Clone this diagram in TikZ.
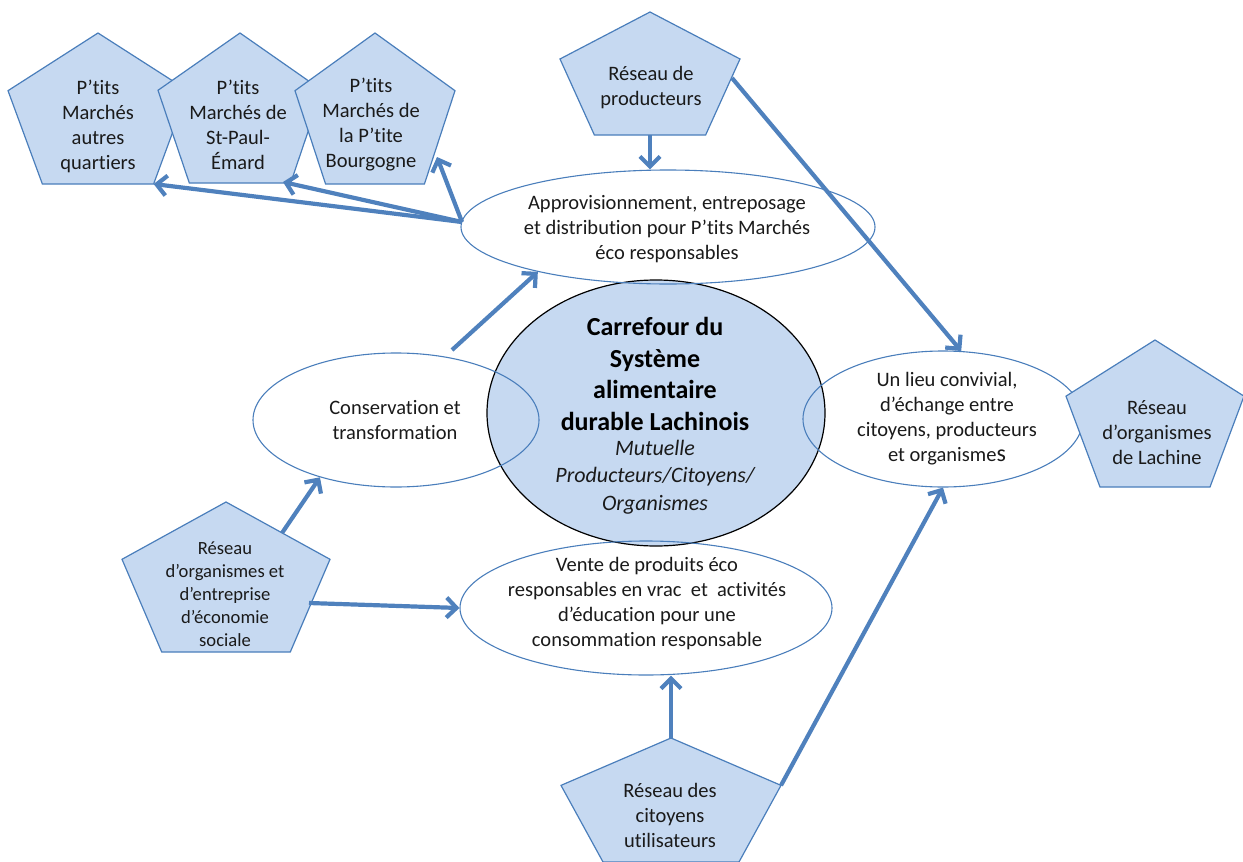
\documentclass[tikz,border=0pt]{standalone}
\usepackage{fontspec}
\setmainfont{Carlito}[Ligatures=NoCommon]
\usetikzlibrary{arrows.meta,shapes.geometric,calc}
\definecolor{pfill}{HTML}{C6D9F1}
\definecolor{pline}{HTML}{4A7EBB}
\definecolor{arr}{HTML}{4F81BD}
\definecolor{ink}{HTML}{1A1A1A}
\tikzset{
  pent/.style={fill=pfill,draw=pline,line width=1.2pt,line join=miter},
  oval/.style={ellipse,draw=pline,line width=1.1pt,inner sep=0pt},
  hubstyle/.style={ellipse,fill=pfill,draw=black,line width=1.2pt,inner sep=0pt},
  txt/.style={align=center,inner sep=0pt,text=ink,font=\fontsize{20.5}{25}\selectfont},
  smalltxt/.style={align=center,inner sep=0pt,text=ink,font=\fontsize{18.6}{23}\selectfont},
  conn/.style={draw=arr,line width=4.2pt,-{Straight Barb[length=10pt,width=20pt]}},
}
% #1 name, #2 centre x, #3 top y, #4 width, #5 height
\newcommand\mypent[5]{%
  \path[pent] (#2,#3) coordinate (#1-t)
    -- (#2+#4/2,#3+0.382*#5) coordinate (#1-r)
    -- (#2+0.309*#4,#3+#5) coordinate (#1-br)
    -- (#2-0.309*#4,#3+#5) coordinate (#1-bl)
    -- (#2-#4/2,#3+0.382*#5) coordinate (#1-l)
    -- cycle;}
\begin{document}
\begin{tikzpicture}[x=1pt,y=-1pt]
\useasboundingbox (0,0) rectangle (1243,862);

% central hub
\node[hubstyle,minimum width=338pt,minimum height=266pt] (hub) at (656,413) {};
\node[align=center,inner sep=0pt,text=black,font=\bfseries\fontsize{26}{31.5}\selectfont] (hubA) at (655,374) {Carrefour du\\Système\\alimentaire\\durable Lachinois};
\node[align=center,inner sep=0pt,text=ink,font=\itshape\fontsize{22}{27.5}\selectfont] (hubB) at (655,477) {Mutuelle\\Producteurs/Citoyens/\\Organismes};

% ellipses
\node[oval,minimum width=414pt,minimum height=114pt] (appro) at (668,227) {};
\node[txt] (approt) at (667,229) {Approvisionnement, entreposage\\et distribution pour P’tits Marchés\\éco responsables};

\node[oval,minimum width=286pt,minimum height=134pt] (cons) at (396,420) {};
\node[txt] (const) at (395,420) {Conservation et\\transformation};

\node[oval,minimum width=280pt,minimum height=136pt] (conv) at (943,419) {};
\node[txt] (convt) at (947,419) {Un lieu convivial,\\d’échange entre\\citoyens, producteurs\\et organisme{\fontsize{24}{25}\selectfont s}};

\node[oval,minimum width=372pt,minimum height=134pt] (vente) at (646,608) {};
\node[txt] (ventet) at (647,604) {Vente de produits éco\\responsables en vrac~ et~ activités\\d’éducation pour une\\consommation responsable};

% pentagons
\mypent{pa}{98}{33}{180}{151}
\node[txt] (pat) at (98,126) {P’tits\\Marchés\\autres\\quartiers};
\mypent{pb}{240}{33}{164}{150}
\node[txt] (pbt) at (238,125) {P’tits\\Marchés de\\St-Paul-\\Émard};
\mypent{pc}{375}{33}{160}{151}
\node[txt] (pct) at (371,125) {P’tits\\Marchés de\\la P’tite\\Bourgogne};

\mypent{prod}{650}{12}{180}{123}
\node[txt] (prodt) at (651,88) {Réseau de\\producteurs};

\mypent{lach}{1155}{340}{178}{147}
\node[txt] (lacht) at (1157,433) {Réseau\\d’organismes\\de Lachine};

\mypent{eco}{226}{502}{208}{150}
\node[smalltxt] (ecot) at (225,594) {Réseau\\d’organismes et\\d’entreprise\\d’économie\\sociale};

\mypent{cit}{671}{738}{220}{124}
\node[txt] (citt) at (670,815) {Réseau des\\citoyens\\utilisateurs};

% connector end points
\coordinate (aout) at (462,222);
\coordinate (pbin) at (283,182);
\coordinate (pcin) at (437,157);
\coordinate (prodr) at (732,78);
\coordinate (consout) at (452,350);
\coordinate (ecoout) at (282,533);
\coordinate (ecoright) at (309,603);

% connectors
\draw[conn] (aout) -- (pa-br);
\draw[conn] (aout) -- (pbin);
\draw[conn] (aout) -- (pcin);
\draw[conn] (prod-t |- prod-bl) -- (appro.north -| prod-t);
\draw[conn] (prodr) -- (conv.75);
\draw[conn] (consout) -- (appro.199);
\draw[conn] (ecoout) -- (cons.217);
\draw[conn] (ecoright) -- (vente.west);
\draw[conn] (cit-t) -- (vente.south -| cit-t);
\draw[conn] (cit-r) -- (conv.south);
\end{tikzpicture}
\end{document}
